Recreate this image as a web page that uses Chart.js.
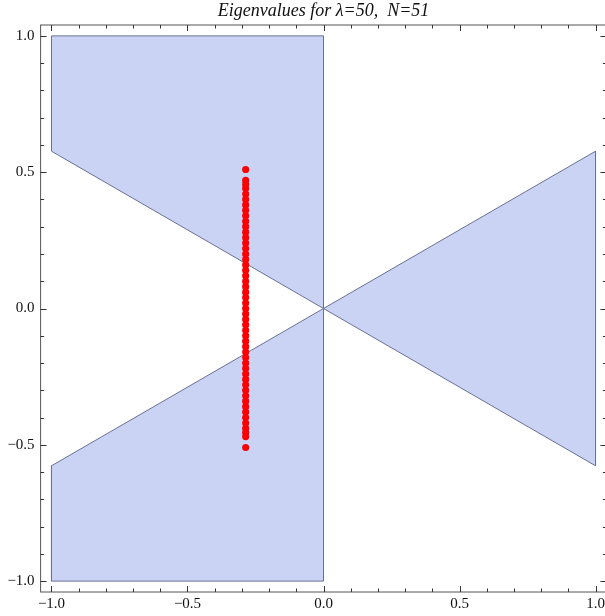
<!DOCTYPE html>
<html>
<head>
<meta charset="utf-8">
<script src="https://cdn.jsdelivr.net/npm/chart.js@4/dist/chart.umd.min.js"></script>
<style>
  html, body { margin: 0; padding: 0; background: #fff; overflow: hidden; }
  #wrap { width: 610px; height: 616px; }
</style>
</head>
<body>
<div id="wrap"><canvas id="c" width="610" height="616"></canvas></div>
<script>
// ---- Data ----
const titleText = "Eigenvalues for \u03bb=50,  N=51";

// Shaded region polygons (vertices, closed)
const upperLeftX = [-1, 0, 0, -1, -1];
const upperLeftY = [1, 1, 0, 0.577, 1];
const rightX = [0, 1, 1, 0];
const rightY = [0, 0.577, -0.577, 0];
const lowerLeftX = [-1, 0, 0, -1, -1];
const lowerLeftY = [-1, -1, 0, -0.577, -1];

const eigenRe = -0.286;
const eigenIm = [
  0.51, 0.47, 0.455, 0.44, 0.42, 0.40, 0.38, 0.36, 0.34, 0.32, 0.30, 0.28, 0.26,
  0.24, 0.22, 0.20, 0.18, 0.16, 0.14, 0.12, 0.10, 0.08, 0.06, 0.04, 0.02,
  0,
  -0.02, -0.04, -0.06, -0.08, -0.10, -0.12, -0.14, -0.16, -0.18, -0.20, -0.22, -0.24,
  -0.26, -0.28, -0.30, -0.32, -0.34, -0.36, -0.38, -0.40, -0.42, -0.44, -0.455, -0.47, -0.51
];

// Axis ticks
const majorTicks = [-1, -0.5, 0, 0.5, 1];
const majorLabels = ["\u22121.0", "\u22120.5", "0.0", "0.5", "1.0"];
const minorTicks = [-0.9, -0.8, -0.7, -0.6, -0.4, -0.3, -0.2, -0.1, 0.1, 0.2, 0.3, 0.4, 0.6, 0.7, 0.8, 0.9];
const axisMin = -1.04, axisMax = 1.04;

// ---- Build ----
const toPts = (xs, ys) => xs.map((x, i) => ({x: x, y: ys[i]}));
const regionFill = 'rgb(203,211,245)';
const regionEdge = 'rgb(105,112,150)';

function polyDataset(xs, ys) {
  return {
    type: 'scatter',
    data: toPts(xs, ys),
    showLine: true,
    fill: 'shape',
    backgroundColor: regionFill,
    borderColor: regionEdge,
    borderWidth: 1,
    pointRadius: 0,
    pointHoverRadius: 0,
    tension: 0,
    order: 2
  };
}

const tickLabelFor = v => {
  const i = majorTicks.findIndex(m => Math.abs(m - v) < 1e-9);
  return i >= 0 ? majorLabels[i] : '';
};

const frameTicks = {
  id: 'frameTicks',
  afterDatasetsDraw(chart) {
    const {ctx, chartArea: a, scales} = chart;
    const xs = scales.x, ys = scales.y;
    ctx.save();
    ctx.strokeStyle = '#555';
    ctx.lineWidth = 1;
    ctx.strokeRect(a.left, a.top, a.right - a.left, a.bottom - a.top);
    ctx.strokeStyle = '#333';
    const all = majorTicks.map(v => [v, 6]).concat(minorTicks.map(v => [v, 3.5]));
    ctx.beginPath();
    all.forEach(([v, len]) => {
      const px = Math.round(xs.getPixelForValue(v)) + 0.5;
      ctx.moveTo(px, a.bottom); ctx.lineTo(px, a.bottom - len);
      ctx.moveTo(px, a.top); ctx.lineTo(px, a.top + len);
      const py = Math.round(ys.getPixelForValue(v)) + 0.5;
      ctx.moveTo(a.left, py); ctx.lineTo(a.left + len, py);
      ctx.moveTo(a.right, py); ctx.lineTo(a.right - len, py);
    });
    ctx.stroke();
    ctx.restore();
  }
};

const labelFont = {family: "'Liberation Serif', 'Times New Roman', serif", size: 15};

new Chart(document.getElementById('c'), {
  type: 'scatter',
  data: {
    datasets: [
      polyDataset(upperLeftX, upperLeftY),
      polyDataset(rightX, rightY),
      polyDataset(lowerLeftX, lowerLeftY),
      {
        type: 'scatter',
        data: eigenIm.map(y => ({x: eigenRe, y: y})),
        backgroundColor: 'rgb(255,0,0)',
        borderWidth: 0,
        pointRadius: 3.6,
        pointHoverRadius: 3.6,
        order: 1
      }
    ]
  },
  options: {
    responsive: false,
    animation: false,
    events: [],
    layout: {padding: {left: 0, right: 2.6, top: 0, bottom: 0}},
    plugins: {
      legend: {display: false},
      tooltip: {enabled: false},
      title: {
        display: true,
        text: titleText,
        fullSize: false,
        color: '#111',
        font: {family: "'Liberation Serif', 'Times New Roman', serif", size: 18, style: 'italic', weight: 'normal', lineHeight: 1.2},
        padding: {top: 0, bottom: 3.4}
      }
    },
    scales: {
      x: {
        type: 'linear',
        position: 'bottom',
        min: axisMin, max: axisMax,
        afterBuildTicks: s => { s.ticks = majorTicks.map(v => ({value: v})); },
        afterFit: s => { s.height = 24; },
        grid: {display: false, drawTicks: false},
        border: {display: false},
        ticks: {callback: v => tickLabelFor(v), color: '#111', font: labelFont, padding: 3, maxRotation: 0, autoSkip: false}
      },
      y: {
        type: 'linear',
        position: 'left',
        min: axisMin, max: axisMax,
        afterBuildTicks: s => { s.ticks = majorTicks.map(v => ({value: v})); },
        afterFit: s => { s.width = 40.6; },
        grid: {display: false, drawTicks: false},
        border: {display: false},
        ticks: {callback: v => tickLabelFor(v), color: '#111', font: labelFont, padding: 6, autoSkip: false}
      }
    }
  },
  plugins: [frameTicks]
});
</script>
</body>
</html>
